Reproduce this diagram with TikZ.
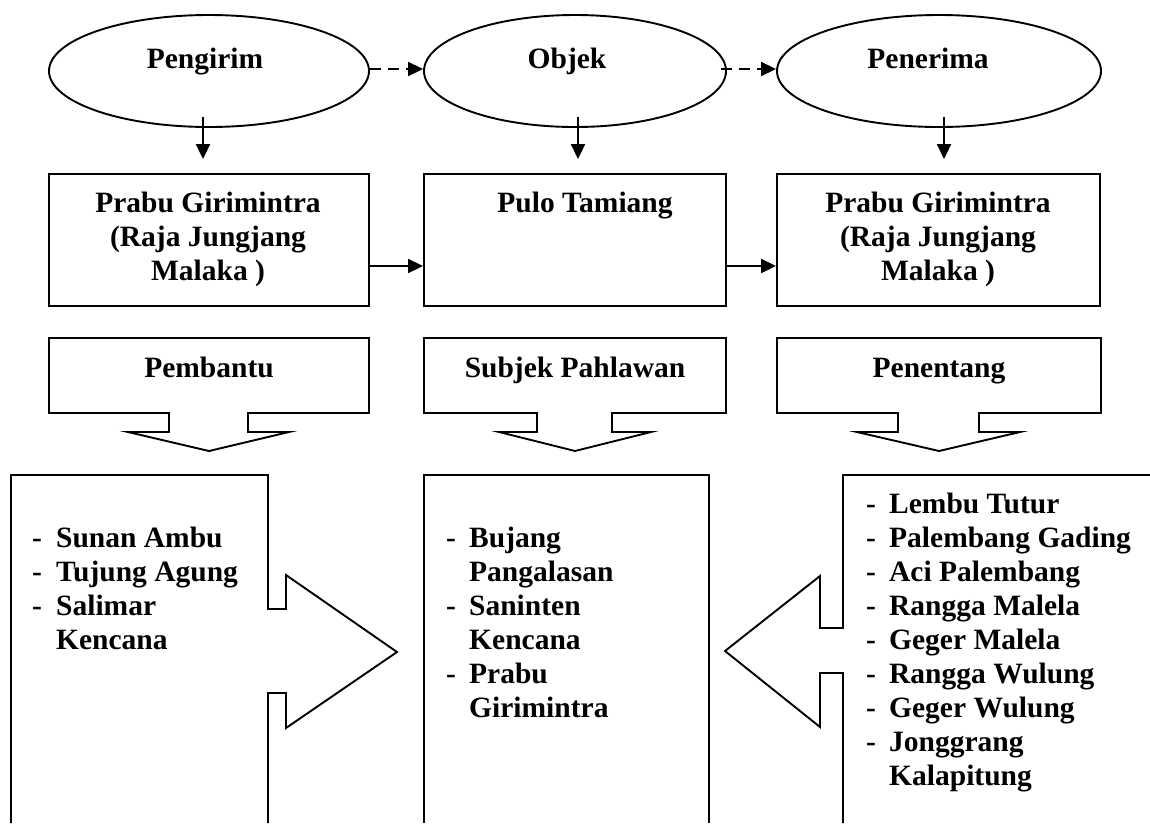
\documentclass[tikz,border=0pt]{standalone}
\usepackage{fontspec}
\setmainfont{Liberation Serif}
\usetikzlibrary{shapes.geometric,arrows.meta}
\tikzset{
  ln/.style={line width=1.9pt},
  ell/.style={ln,draw,ellipse,inner sep=0pt},
  box/.style={ln,draw,rectangle,inner sep=0pt},
  shp/.style={ln,draw,line join=miter},
  arr/.style={ln,-{Triangle[length=15pt,width=14pt]}},
  darr/.style={arr,dash pattern=on 11pt off 7pt},
  lbl/.style={inner sep=0pt,font=\fontsize{29.5}{34}\selectfont\bfseries}
}
\begin{document}
\begin{tikzpicture}[x=1pt,y=-1pt]
\useasboundingbox (0,0) rectangle (1150,823);

% ellipses
\node[ell,minimum width=320pt,minimum height=112pt] (pengirim) at (209,71) {};
\node[ell,minimum width=302pt,minimum height=112pt] (objek) at (575,71) {};
\node[ell,minimum width=324pt,minimum height=112pt] (penerima) at (939,71) {};
\node[lbl,anchor=base] (tpengirim) at ([xshift=-4pt,yshift=3pt]pengirim.center) {Pengirim};
\node[lbl,anchor=base] (tobjek) at ([xshift=-8pt,yshift=3pt]objek.center) {Objek};
\node[lbl,anchor=base] (tpenerima) at ([xshift=-11pt,yshift=3pt]penerima.center) {Penerima};

% boxes
\node[box,minimum width=320pt,minimum height=132pt] (b1) at (209,240) {};
\node[box,minimum width=302pt,minimum height=132pt] (b2) at (575,240) {};
\node[box,minimum width=323pt,minimum height=132pt] (b3) at (938.5,240) {};
\node[lbl,anchor=base] (tb1) at (208,212) {\begin{tabular}[t]{@{}c@{}}Prabu Girimintra\\(Raja Jungjang\\Malaka )\end{tabular}};
\node[lbl,anchor=base] (tb2) at (585,212) {Pulo Tamiang};
\node[lbl,anchor=base] (tb3) at (938,212) {\begin{tabular}[t]{@{}c@{}}Prabu Girimintra\\(Raja Jungjang\\Malaka )\end{tabular}};

% connectors
\draw[darr] ([yshift=2pt]pengirim.east) -- ([yshift=2pt]objek.west);
\draw[darr] ([xshift=-6pt,yshift=2pt]objek.east) -- ([yshift=2pt]penerima.west);
\draw[arr] ([xshift=-6pt,yshift=11pt]pengirim.south) -- ([xshift=-6pt,yshift=14pt]b1.north);
\draw[arr] ([xshift=3pt,yshift=11pt]objek.south) -- ([xshift=3pt,yshift=14pt]b2.north);
\draw[arr] ([xshift=5pt,yshift=11pt]penerima.south) -- ([xshift=5.5pt,yshift=14pt]b3.north);
\draw[arr] ([yshift=-26pt]b1.east) -- ([yshift=-26pt]b2.west);
\draw[arr] ([yshift=-26pt]b2.east) -- ([yshift=-26pt]b3.west);

% down-arrow callouts
\draw[shp] (49,338) -- (369,338) -- (369,413) -- (248,413) -- (248,432) -- (289,432)
  -- (209,451) -- (128,432) -- (169,432) -- (169,413) -- (49,413) -- cycle;
\draw[shp] (424,338) -- (726,338) -- (726,413) -- (612,413) -- (612,432) -- (651,432)
  -- (575,451) -- (499,432) -- (537,432) -- (537,413) -- (424,413) -- cycle;
\draw[shp] (777,338) -- (1101,338) -- (1101,413) -- (979,413) -- (979,432) -- (1020,432)
  -- (939,451) -- (857,432) -- (898,432) -- (898,413) -- (777,413) -- cycle;
\node[lbl,anchor=base] (tc1) at (209,377) {Pembantu};
\node[lbl,anchor=base] (tc2) at (575,377) {Subjek Pahlawan};
\node[lbl,anchor=base] (tc3) at (939,377) {Penentang};

% bottom shapes
\draw[shp] (11,823) -- (11,475) -- (268,475) -- (268,609) -- (286,609) -- (286,575)
  -- (397,652) -- (286,728) -- (286,693) -- (268,693) -- (268,823);
\draw[shp] (424,823) -- (424,475) -- (709,475) -- (709,823);
\draw[shp] (1150,475) -- (843,475) -- (843,628) -- (820,628) -- (820,576)
  -- (725,651) -- (820,727) -- (820,673) -- (843,673) -- (843,823);

\node[lbl,anchor=base west] (l1) at (32,547) {\begin{tabular}[t]{@{}p{24pt}@{}l@{}}
-&Sunan Ambu\\-&Tujung Agung\\-&Salimar\\&Kencana\end{tabular}};
\node[lbl,anchor=base west] (l2) at (446,547) {\begin{tabular}[t]{@{}p{23pt}@{}l@{}}
-&Bujang\\&Pangalasan\\-&Saninten\\&Kencana\\-&Prabu\\&Girimintra\end{tabular}};
\node[lbl,anchor=base west] (l3) at (866,513) {\begin{tabular}[t]{@{}p{23pt}@{}l@{}}
-&Lembu Tutur\\-&Palembang Gading\\-&Aci Palembang\\-&Rangga Malela\\-&Geger Malela\\
-&Rangga Wulung\\-&Geger Wulung\\-&Jonggrang\\&Kalapitung\end{tabular}};
\end{tikzpicture}
\end{document}
